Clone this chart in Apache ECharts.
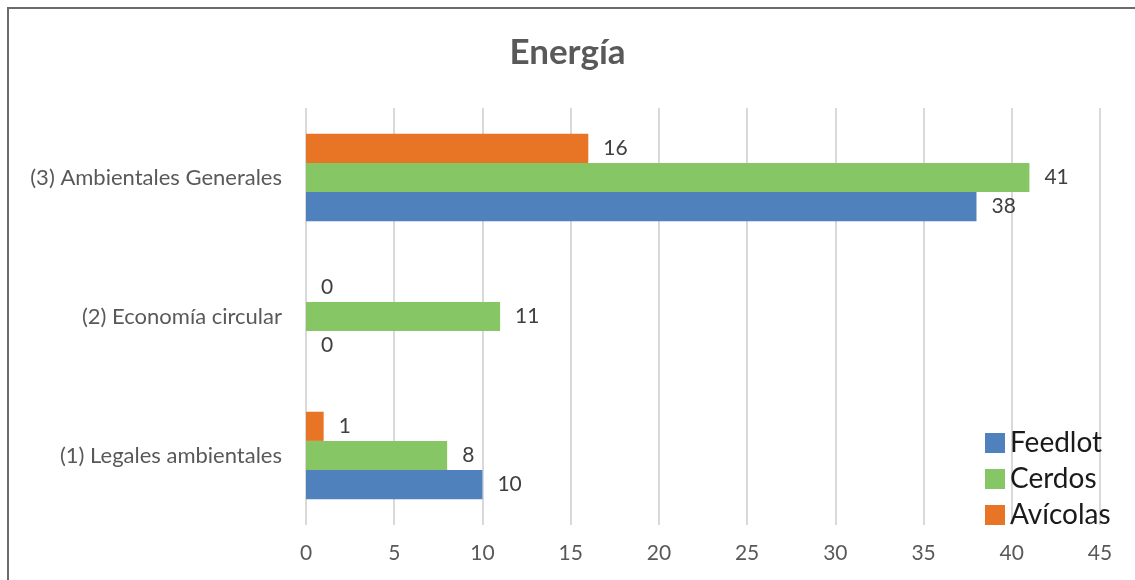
<!DOCTYPE html>
<html>
<head>
<meta charset="utf-8">
<script src="https://cdn.jsdelivr.net/npm/echarts@6/dist/echarts.min.js"></script>
<style>
  html, body { margin: 0; padding: 0; background: #fff; overflow: hidden; }
  #frame { position: absolute; left: 7px; top: 7px; width: 1200px; height: 700px; border: 2px solid #6b6b6b; box-sizing: border-box; }
  #chart { position: absolute; left: 0; top: 0; width: 1135px; height: 580px; }
</style>
</head>
<body>
<div id="frame"></div>
<div id="chart"></div>
<script>
const categories = ["(1) Legales ambientales", "(2) Economía circular", "(3) Ambientales Generales"];
const feedlot = [10, 0, 38];
const cerdos = [8, 11, 41];
const avicolas = [1, 0, 16];
const xTicks = { min: 0, max: 45, interval: 5 };

const font = "Lato, 'Noto Sans', sans-serif";
const chart = echarts.init(document.getElementById("chart"));

const label = {
  show: true,
  position: "right",
  distance: 15,
  color: "#404040",
  fontSize: 21,
  fontFamily: font,
};

// series order: first series is drawn at the top of each band
chart.setOption({
  animation: false,
  backgroundColor: "transparent",
  title: {
    text: "Energía",
    left: "center",
    top: 30,
    textStyle: { color: "#595959", fontSize: 35, fontWeight: "bold", fontFamily: font },
  },
  legend: {
    orient: "vertical",
    left: 980,
    top: 424,
    itemWidth: 20,
    itemHeight: 20,
    itemGap: 8,
    icon: "rect",
    data: ["Feedlot", "Cerdos", "Avícolas"],
    textStyle: { color: "#1a1a1a", fontSize: 28, fontFamily: font },
  },
  grid: { left: 306, right: 35, top: 108, bottom: 55 },
  xAxis: {
    type: "value",
    min: xTicks.min,
    max: xTicks.max,
    interval: xTicks.interval,
    axisLine: { show: false },
    axisTick: { show: false },
    axisLabel: { color: "#595959", fontSize: 21, fontFamily: font, margin: 18 },
    splitLine: { lineStyle: { color: "#d9d9d9", width: 2 } },
  },
  yAxis: {
    type: "category",
    data: categories,
    axisLine: { show: false },
    axisTick: { show: false },
    axisLabel: { color: "#595959", fontSize: 22, fontFamily: font, margin: 24 },
  },
  series: [
    { name: "Avícolas", type: "bar", data: avicolas, barGap: "0%", barCategoryGap: "37%", itemStyle: { color: "#e87426" }, label },
    { name: "Cerdos", type: "bar", data: cerdos, barGap: "0%", barCategoryGap: "37%", itemStyle: { color: "#87c664" }, label },
    { name: "Feedlot", type: "bar", data: feedlot, barGap: "0%", barCategoryGap: "37%", itemStyle: { color: "#4f81bd" }, label },
  ],
});
</script>
</body>
</html>
